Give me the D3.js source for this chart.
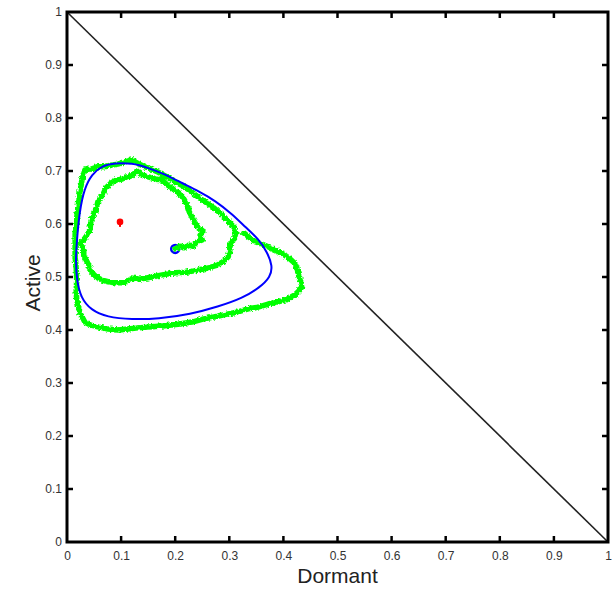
<!DOCTYPE html>
<html>
<head>
<meta charset="utf-8">
<script src="https://cdn.jsdelivr.net/npm/d3@7"></script>
<style>
	body { margin: 0; background: #ffffff; }
	text { font-family: "Liberation Sans", Arial, sans-serif; }
</style>
</head>
<body>
<div id="plot"></div>
<script>
const svg_dimensions = {
	width: 615,
	height: 590,
};
const margin = {
	top: 12,
	right: 7,
	bottom: 48,
	left: 67,
};
const width = svg_dimensions.width - margin.left - margin.right;
const height = svg_dimensions.height - margin.top - margin.bottom;

// tick values and their labels, same for both axes
const tick_values = [0, 0.1, 0.2, 0.3, 0.4, 0.5, 0.6, 0.7, 0.8, 0.9, 1];
const tick_labels = ["0", "0.1", "0.2", "0.3", "0.4", "0.5", "0.6", "0.7", "0.8", "0.9", "1"];

const x_label = "Dormant";
const y_label = "Active";

// boundary of the simplex (dormant + active = 1)
const boundary_dormant = [0, 1];
const boundary_active = [1, 0];

// deterministic limit cycle (blue), going round counter-clockwise
const cycle_dormant = [0.089, 0.065, 0.046, 0.032, 0.023, 0.018, 0.016, 0.018, 0.026, 0.044,
	0.074, 0.120, 0.168, 0.229, 0.279, 0.324, 0.356, 0.376, 0.380, 0.370,
	0.354, 0.330, 0.305, 0.274, 0.243, 0.213, 0.181, 0.150, 0.120];
const cycle_active = [0.715, 0.710, 0.694, 0.667, 0.623, 0.566, 0.532, 0.494, 0.460, 0.438,
	0.424, 0.420, 0.421, 0.430, 0.444, 0.460, 0.480, 0.500, 0.521, 0.547,
	0.572, 0.594, 0.619, 0.644, 0.662, 0.677, 0.694, 0.706, 0.715];

// stochastic trajectory (green), starting at the blue marker and spiralling out
const walk_dormant = [
	0.200, 0.209, 0.216, 0.226, 0.233, 0.240, 0.250, 0.246, 0.251, 0.240,
	0.233, 0.226, 0.222, 0.214, 0.203, 0.194, 0.185, 0.176, 0.163, 0.150,
	0.139, 0.129, 0.120, 0.111, 0.102, 0.091, 0.081, 0.072, 0.067, 0.057,
	0.054, 0.048, 0.044, 0.043, 0.037, 0.031, 0.024, 0.031, 0.031, 0.039,
	0.044, 0.054, 0.065, 0.076, 0.091, 0.107, 0.118, 0.135, 0.157, 0.176,
	0.200, 0.220, 0.242, 0.261, 0.279, 0.290, 0.298, 0.301, 0.301, 0.309,
	0.312, 0.309, 0.301, 0.287, 0.272, 0.255, 0.242, 0.231, 0.214, 0.200,
	0.185, 0.168, 0.155, 0.144, 0.133, 0.120, 0.107, 0.094, 0.081, 0.070,
	0.057, 0.046, 0.033, 0.028, 0.026, 0.024, 0.022, 0.020, 0.018, 0.018,
	0.015, 0.015, 0.015, 0.015, 0.017, 0.018, 0.017, 0.018, 0.024, 0.033,
	0.044, 0.057, 0.076, 0.094, 0.113, 0.131, 0.157, 0.181, 0.205, 0.231,
	0.253, 0.274, 0.296, 0.316, 0.335, 0.353, 0.372, 0.390, 0.407, 0.421,
	0.429, 0.434, 0.431, 0.427, 0.425, 0.421, 0.410, 0.397, 0.384, 0.372,
	0.360, 0.349, 0.338, 0.327];
const walk_active = [
	0.553, 0.558, 0.555, 0.560, 0.558, 0.566, 0.570, 0.579, 0.587, 0.596,
	0.609, 0.623, 0.636, 0.651, 0.660, 0.668, 0.674, 0.683, 0.685, 0.689,
	0.692, 0.700, 0.691, 0.689, 0.685, 0.683, 0.677, 0.668, 0.657, 0.642,
	0.628, 0.617, 0.604, 0.591, 0.579, 0.570, 0.564, 0.553, 0.540, 0.525,
	0.511, 0.500, 0.494, 0.491, 0.489, 0.489, 0.498, 0.496, 0.500, 0.504,
	0.508, 0.509, 0.513, 0.517, 0.523, 0.530, 0.538, 0.549, 0.560, 0.572,
	0.583, 0.594, 0.602, 0.617, 0.630, 0.642, 0.651, 0.660, 0.672, 0.679,
	0.689, 0.698, 0.704, 0.708, 0.713, 0.721, 0.717, 0.713, 0.711, 0.708,
	0.708, 0.704, 0.702, 0.685, 0.672, 0.660, 0.645, 0.628, 0.613, 0.598,
	0.583, 0.566, 0.551, 0.538, 0.517, 0.494, 0.475, 0.457, 0.432, 0.415,
	0.409, 0.406, 0.402, 0.400, 0.402, 0.404, 0.406, 0.408, 0.411, 0.415,
	0.421, 0.425, 0.430, 0.434, 0.440, 0.443, 0.449, 0.453, 0.458, 0.466,
	0.474, 0.481, 0.494, 0.508, 0.517, 0.526, 0.536, 0.545, 0.551, 0.557,
	0.562, 0.566, 0.574, 0.583];

// starting point (blue) and interior fixed point (red)
const start_point = [0.200, 0.553];
const fixed_point = [0.098, 0.604];

const svg = d3.select("#plot")
	.append("svg")
		.attr("width", svg_dimensions.width)
		.attr("height", svg_dimensions.height);

// roughen the edge of the noisy trajectory a little
const filter = svg.append("defs")
	.append("filter")
		.attr("id", "rough")
		.attr("x", "-5%")
		.attr("y", "-5%")
		.attr("width", "110%")
		.attr("height", "110%");
filter.append("feTurbulence")
	.attr("type", "fractalNoise")
	.attr("baseFrequency", 0.45)
	.attr("numOctaves", 2)
	.attr("seed", 3)
	.attr("result", "noise");
filter.append("feDisplacementMap")
	.attr("in", "SourceGraphic")
	.attr("in2", "noise")
	.attr("scale", 4)
	.attr("xChannelSelector", "R")
	.attr("yChannelSelector", "G");

const g = svg.append("g")
	.attr("transform", "translate(" + margin.left + "," + margin.top + ")");

const x = d3.scaleLinear().domain([0, 1]).range([0, width]);
const y = d3.scaleLinear().domain([0, 1]).range([height, 0]);

const line = d3.line()
	.x(d => x(d[0]))
	.y(d => y(d[1]));

// diagonal boundary
g.append("path")
	.datum(d3.zip(boundary_dormant, boundary_active))
	.attr("d", line)
	.attr("fill", "none")
	.attr("stroke", "#222222")
	.attr("stroke-width", 1.6);

// start marker, partly covered by the trajectory
g.append("circle")
	.attr("cx", x(start_point[0]))
	.attr("cy", y(start_point[1]))
	.attr("r", 4)
	.attr("fill", "none")
	.attr("stroke", "#0000ff")
	.attr("stroke-width", 2.5);

// stochastic trajectory
g.append("path")
	.datum(d3.zip(walk_dormant, walk_active))
	.attr("d", line)
	.attr("fill", "none")
	.attr("stroke", "#00ff00")
	.attr("stroke-width", 5.5)
	.attr("stroke-linejoin", "round")
	.attr("stroke-linecap", "round")
	.attr("filter", "url(#rough)");

// limit cycle
g.append("path")
	.datum(d3.zip(cycle_dormant, cycle_active))
	.attr("d", d3.line()
		.x(d => x(d[0]))
		.y(d => y(d[1]))
		.curve(d3.curveBasisClosed))
	.attr("fill", "none")
	.attr("stroke", "#0000ff")
	.attr("stroke-width", 2);

// fixed point
g.append("line")
	.attr("x1", x(fixed_point[0]))
	.attr("x2", x(fixed_point[0]))
	.attr("y1", y(fixed_point[1]))
	.attr("y2", y(fixed_point[1]) + 5)
	.attr("stroke", "#ff0000")
	.attr("stroke-width", 2);
g.append("circle")
	.attr("cx", x(fixed_point[0]))
	.attr("cy", y(fixed_point[1]))
	.attr("r", 3.3)
	.attr("fill", "#ff0000");

// axes: ticks inside on all four sides, labels only bottom and left
const inner_ticks = tick_values.slice(1, -1);
g.append("g")
	.attr("transform", "translate(0," + height + ")")
	.call(d3.axisBottom(x).tickValues(tick_values).tickFormat((d, i) => tick_labels[i]).tickSizeInner(0).tickSizeOuter(0).tickPadding(9))
	.call(a => a.select(".domain").remove());
g.append("g")
	.call(d3.axisLeft(y).tickValues(tick_values).tickFormat((d, i) => tick_labels[i]).tickSizeInner(0).tickSizeOuter(0).tickPadding(5))
	.call(a => a.select(".domain").remove());
g.selectAll(".tick text")
	.attr("font-family", "'Liberation Sans', Arial, sans-serif")
	.attr("font-size", 12)
	.attr("fill", "#333333");

const tick_len = 6;
const tick_marks = g.append("g")
	.attr("stroke", "#000000")
	.attr("stroke-width", 2.5);
tick_marks.selectAll(".tb")
	.data(inner_ticks)
	.join("line")
		.attr("x1", d => x(d))
		.attr("x2", d => x(d))
		.attr("y1", height)
		.attr("y2", height - tick_len);
tick_marks.selectAll(".tt")
	.data(inner_ticks)
	.join("line")
		.attr("x1", d => x(d))
		.attr("x2", d => x(d))
		.attr("y1", 0)
		.attr("y2", tick_len);
tick_marks.selectAll(".tl")
	.data(inner_ticks)
	.join("line")
		.attr("x1", 0)
		.attr("x2", tick_len)
		.attr("y1", d => y(d))
		.attr("y2", d => y(d));
tick_marks.selectAll(".tr")
	.data(inner_ticks)
	.join("line")
		.attr("x1", width)
		.attr("x2", width - tick_len)
		.attr("y1", d => y(d))
		.attr("y2", d => y(d));

// frame
g.append("rect")
	.attr("x", 0)
	.attr("y", 0)
	.attr("width", width)
	.attr("height", height)
	.attr("fill", "none")
	.attr("stroke", "#000000")
	.attr("stroke-width", 3);

// axis titles
g.append("text")
	.attr("x", width / 2)
	.attr("y", height + 41)
	.attr("text-anchor", "middle")
	.attr("font-size", 21)
	.attr("fill", "#222222")
	.text(x_label);
g.append("text")
	.attr("transform", "translate(" + (-27) + "," + (height / 2 + 6) + ") rotate(-90)")
	.attr("text-anchor", "middle")
	.attr("font-size", 21)
	.attr("fill", "#222222")
	.text(y_label);
</script>
</body>
</html>
